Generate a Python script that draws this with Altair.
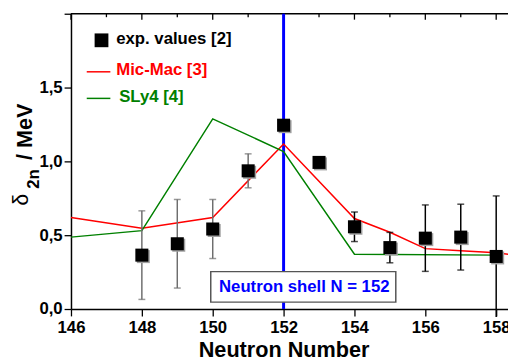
import altair as alt
import pandas as pd

FONT = "Liberation Sans"

# experimental values
n_exp = [148, 149, 150, 151, 152, 153, 154, 155, 156, 157, 158]
d_exp = [0.365, 0.442, 0.542, 0.936, 1.245, 0.993, 0.557, 0.416, 0.480, 0.487, 0.356]
e_exp = [0.300, 0.300, 0.200, 0.115, 0.0, 0.0, 0.100, 0.103, 0.225, 0.223, 0.41]

# Mic-Mac [3]
n_mm = [146, 148, 150, 152, 154, 155, 156, 157, 158, 159]
d_mm = [0.620, 0.547, 0.620, 1.118, 0.613, 0.520, 0.409, 0.394, 0.381, 0.350]

# SLy4 [4]
n_sly = [146, 148, 150, 152, 154, 158]
d_sly = [0.487, 0.531, 1.288, 1.067, 0.371, 0.365]

x_ticks = list(range(146, 159))
y_ticks = [0, 0.25, 0.5, 0.75, 1.0, 1.25, 1.5, 1.75, 2.0]
shell_n = [152]

exp_df = pd.DataFrame({"N": n_exp, "d": d_exp, "e": e_exp})
exp_df["lo"] = exp_df["d"] - exp_df["e"]
exp_df["hi"] = exp_df["d"] + exp_df["e"]
mm_df = pd.DataFrame({"N": n_mm, "d": d_mm})
sly_df = pd.DataFrame({"N": n_sly, "d": d_sly})
tick_df = pd.DataFrame({"N": x_ticks})
shell_df = pd.DataFrame({"N": shell_n})

W, H = 444, 300
xs = alt.Scale(domain=[146, 146 + W / 36], nice=False, zero=False)
ys = alt.Scale(domain=[0, 2.0], nice=False, zero=True)

x_axis = alt.Axis(
    values=x_ticks,
    labelExpr="datum.value % 2 == 0 ? datum.value : ''",
    tickSize={"condition": {"test": "datum.value % 2 == 0", "value": 7}, "value": 4},
    tickColor="black", tickWidth=1.3, domainColor="black", domainWidth=1.5,
    labelFont=FONT, labelFontSize=17, labelFontWeight="bold", labelColor="black",
    labelPadding=4, labelFlush=False, labelOverlap=False, grid=False,
    title="Neutron Number", titleFont=FONT, titleFontSize=22, titleFontWeight="bold",
    titleColor="black", titleBaseline="alphabetic", titleY=48.5, titleX=216, titleAlign="center",
    titleAnchor="middle",
)
y_axis = alt.Axis(
    values=y_ticks,
    labelExpr="((datum.value*2) % 1 == 0 && datum.value < 1.9) ? replace(format(datum.value, '.1f'), '.', ',') : ''",
    tickSize={"condition": {"test": "(datum.value*2) % 1 == 0", "value": 7}, "value": 4},
    tickColor="black", tickWidth=1.3, domainColor="black", domainWidth=1.5,
    labelFont=FONT, labelFontSize=17, labelFontWeight="bold", labelColor="black",
    labelPadding=2, labelFlush=False, grid=False, title=None,
)

base_exp = alt.Chart(exp_df)

# axes carrier (invisible)
axes = alt.Chart(mm_df).mark_point(opacity=0).encode(
    x=alt.X("N:Q", scale=xs, axis=x_axis),
    y=alt.Y("d:Q", scale=ys, axis=y_axis),
)

# top frame with inward ticks
top_line = alt.Chart(shell_df).mark_rule(color="black", strokeWidth=1.5).encode(
    x=alt.value(0), x2=alt.value(W), y=alt.value(0)
)
top_major = alt.Chart(tick_df).transform_filter("datum.N % 2 == 0").mark_rule(
    color="black", strokeWidth=1.3).encode(
    x=alt.X("N:Q", scale=xs), y=alt.value(0), y2=alt.value(6))
top_minor = alt.Chart(tick_df).transform_filter("datum.N % 2 == 1").mark_rule(
    color="black", strokeWidth=1.3).encode(
    x=alt.X("N:Q", scale=xs), y=alt.value(0), y2=alt.value(3.5))

shell_line = alt.Chart(shell_df).mark_rule(color="#0000ff", strokeWidth=3).encode(
    x=alt.X("N:Q", scale=xs), y=alt.value(0), y2=alt.value(H))

mm_line = alt.Chart(mm_df).mark_line(color="#ff0000", strokeWidth=1.5, clip=True).encode(
    x=alt.X("N:Q", scale=xs), y=alt.Y("d:Q", scale=ys))
sly_line = alt.Chart(sly_df).mark_line(color="#008000", strokeWidth=1.5, clip=True).encode(
    x=alt.X("N:Q", scale=xs), y=alt.Y("d:Q", scale=ys))

err_color = alt.condition("datum.N <= 151", alt.value("#6e6e6e"), alt.value("black"))
err_rule = base_exp.transform_filter("datum.e > 0").mark_rule(strokeWidth=1.5).encode(
    x=alt.X("N:Q", scale=xs), y=alt.Y("lo:Q", scale=ys), y2="hi:Q", color=err_color)
cap_hi = base_exp.transform_filter("datum.e > 0").mark_tick(
    orient="horizontal", size=7, thickness=1.5).encode(
    x=alt.X("N:Q", scale=xs), y=alt.Y("hi:Q", scale=ys), color=err_color)
cap_lo = base_exp.transform_filter("datum.e > 0 && datum.lo >= 0").mark_tick(
    orient="horizontal", size=7, thickness=1.5).encode(
    x=alt.X("N:Q", scale=xs), y=alt.Y("lo:Q", scale=ys), color=err_color)

shadow = base_exp.mark_square(size=175, color="#a0a0a0", opacity=1, xOffset=1.5, yOffset=1.5).encode(
    x=alt.X("N:Q", scale=xs), y=alt.Y("d:Q", scale=ys))
squares = base_exp.mark_square(size=175, color="black", opacity=1).encode(
    x=alt.X("N:Q", scale=xs), y=alt.Y("d:Q", scale=ys))

# legend
one = alt.Chart(shell_df)
leg_sq = one.mark_square(size=196, color="black", opacity=1).encode(x=alt.value(31), y=alt.value(27))
leg_t1 = one.mark_text(text="exp. values [2]", font=FONT, fontSize=17, fontWeight="bold",
                       color="black", align="left", baseline="middle").encode(
    x=alt.value(46), y=alt.value(26))
leg_l2 = one.mark_rule(color="#ff0000", strokeWidth=1.5).encode(
    x=alt.value(16), x2=alt.value(40), y=alt.value(59))
leg_t2 = one.mark_text(text="Mic-Mac [3]", font=FONT, fontSize=17, fontWeight="bold",
                       color="#ff0000", align="left", baseline="middle").encode(
    x=alt.value(46), y=alt.value(57.5))
leg_l3 = one.mark_rule(color="#008000", strokeWidth=1.5).encode(
    x=alt.value(16), x2=alt.value(40), y=alt.value(86))
leg_t3 = one.mark_text(text="SLy4 [4]", font=FONT, fontSize=17, fontWeight="bold",
                       color="#008000", align="left", baseline="middle").encode(
    x=alt.value(49), y=alt.value(85))

# annotation box
box = one.mark_rect(fill="white", stroke="#555555", strokeWidth=1.5).encode(
    x=alt.value(142), x2=alt.value(330), y=alt.value(262), y2=alt.value(293))
box_t = one.mark_text(text="Neutron shell N = 152", font=FONT, fontSize=17, fontWeight="bold",
                      color="#0000ff", align="center", baseline="middle").encode(
    x=alt.value(237), y=alt.value(277.5))

# y-axis title with subscript
yt1 = one.mark_text(text="δ", font=FONT, fontSize=22, color="black", angle=270,
                    align="center", baseline="middle").encode(x=alt.value(-51), y=alt.value(189))
yt2 = one.mark_text(text="2n", font=FONT, fontSize=17, fontWeight="bold", color="black", angle=270,
                    align="center", baseline="middle").encode(x=alt.value(-38), y=alt.value(168))
yt3 = one.mark_text(text="/ MeV", font=FONT, fontSize=22, fontWeight="bold", color="black", angle=270,
                    align="center", baseline="middle").encode(x=alt.value(-47), y=alt.value(120))

chart = alt.layer(
    axes, top_line, top_major, top_minor, shell_line, mm_line, sly_line,
    err_rule, cap_hi, cap_lo, shadow, squares,
    leg_sq, leg_t1, leg_l2, leg_t2, leg_l3, leg_t3, box, box_t, yt1, yt2, yt3,
).properties(
    width=W, height=H,
    autosize=alt.AutoSizeParams(type="none"),
    padding={"left": 64, "top": 3, "right": 0, "bottom": 51},
    background="white",
).configure_view(stroke=None)

chart.save("out.html", embed_options={"renderer": "svg", "actions": False})
